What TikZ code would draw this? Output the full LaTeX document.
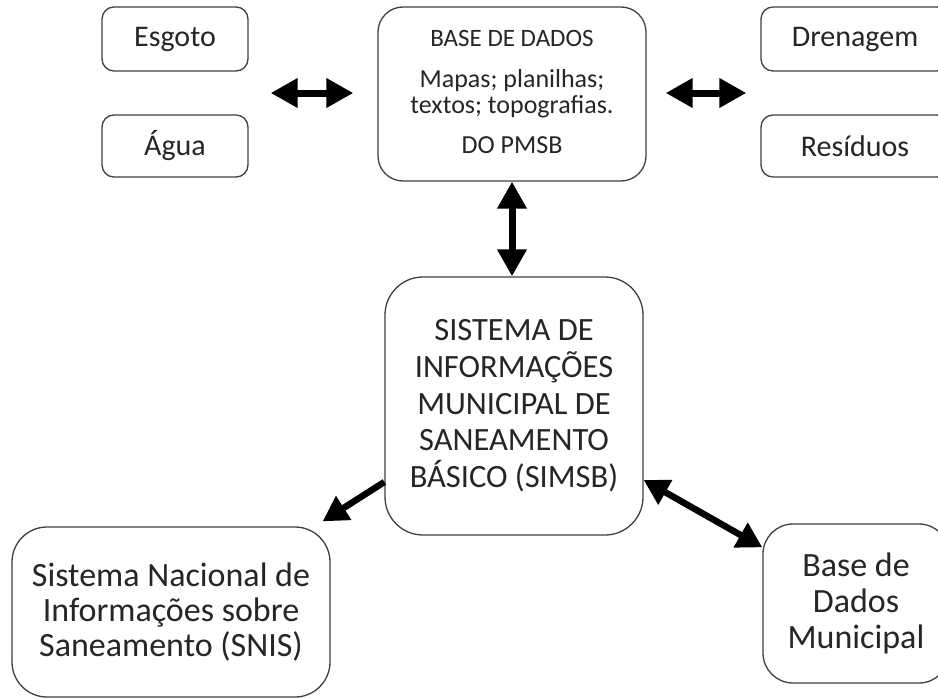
\documentclass[tikz,border=0pt]{standalone}
\usepackage{fontspec}
\setmainfont{Carlito}
\usetikzlibrary{arrows.meta,calc}
\begin{document}
\begin{tikzpicture}[x=1pt,y=-1pt,
  box/.style={draw=black!75, line width=1.3pt, rounded corners=#1, inner sep=0pt, align=center, text=black!85},
  box/.default=12pt,
  lbl/.style={anchor=base, inner sep=0pt, text=black!85},
  dbl/.style={line width=7pt, {Triangle[length=27pt,width=28pt]}-{Triangle[length=27pt,width=28pt]}},
  dbld/.style={line width=6.5pt, {Triangle[length=25pt,width=27pt]}-{Triangle[length=25pt,width=27pt]}},
  sgld/.style={line width=6.5pt, -{Triangle[length=25pt,width=27pt]}},
]
\clip (0,0) rectangle (938,699);
\fill[white] (0,0) rectangle (938,699);
% small boxes
\node[box, minimum width=146pt, minimum height=64pt, font=\fontsize{30}{36}\selectfont] (esgoto) at (175,39) {Esgoto};
\node[box, minimum width=146pt, minimum height=62pt, font=\fontsize{30}{36}\selectfont] (agua) at (175,146) {Água};
\node[box, minimum width=188pt, minimum height=64pt, font=\fontsize{30}{36}\selectfont] (dren) at (855,39) {Drenagem};
\node[box, minimum width=188pt, minimum height=62pt, font=\fontsize{30}{36}\selectfont] (resid) at (855,146) {Resíduos};
% base de dados box
\node[box=25pt, minimum width=268pt, minimum height=174pt] (base) at (512,94) {};
\node[lbl, font=\fontsize{25}{28}\selectfont] (b1) at (512,46) {BASE DE DADOS};
\node[lbl, font=\fontsize{26}{30}\selectfont] (b2) at (512,87) {Mapas; planilhas;};
\node[lbl, font=\fontsize{26}{30}\selectfont] (b3) at (512,113) {textos; topografias.};
\node[lbl, font=\fontsize{26}{30}\selectfont] (b4) at (512,153) {DO PMSB};
% central box
\node[box=38pt, minimum width=258pt, minimum height=258pt, font=\fontsize{32.5}{36.7}\selectfont] (simsb) at (514,406)
  {SISTEMA DE\\INFORMAÇÕES\\MUNICIPAL DE\\SANEAMENTO\\BÁSICO (SIMSB)};
% bottom boxes
\node[box=35pt, minimum width=318pt, minimum height=170pt, font=\fontsize{34}{35}\selectfont] (snis) at (171,612)
  {Sistema Nacional de\\Informações sobre\\Saneamento (SNIS)};
\node[box=30pt, minimum width=186pt, minimum height=159pt, font=\fontsize{34}{36.3}\selectfont] (mun) at (856,603.5)
  {Base de\\Dados\\Municipal};
% connectors
\coordinate (la) at ($(esgoto.south east)!0.5!(agua.north east)$);
\coordinate (ra) at ($(dren.south west)!0.5!(resid.north west)$);
\draw[dbl, shorten <=22pt, shorten >=24pt] (la) -- (la -| base.west);
\draw[dbl, shorten <=19pt, shorten >=14pt] (base.east |- ra) -- (ra);
\draw[dbl] (base.south) -- (base.south |- simsb.north);
\draw[sgld] ([yshift=-76pt]simsb.west) -- ([shift={(-8,-5)}]snis.north east);
\draw[dbld] ([yshift=-74pt]simsb.east) -- ([yshift=-24pt]mun.north west);
\end{tikzpicture}
\end{document}
